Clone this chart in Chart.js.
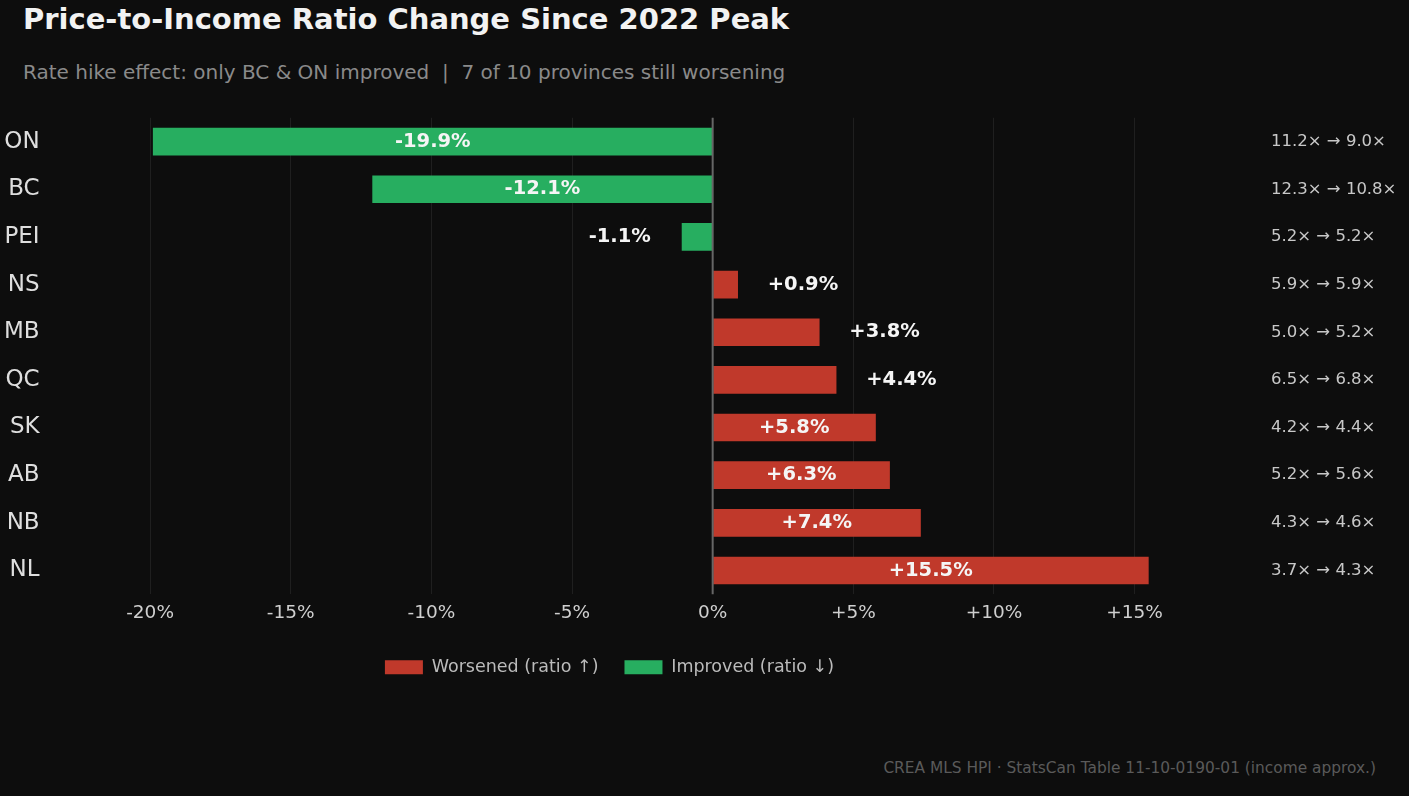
<!DOCTYPE html><html><head><meta charset="utf-8">
<script src="https://cdn.jsdelivr.net/npm/chart.js@4"></script>
<style>html,body{margin:0;background:#0d0d0d;}#w{position:relative;width:1409px;height:796px;}
#t{position:absolute;left:23px;top:2px;color:#f2f2f2;font:bold 29px "DejaVu Sans";}
#s{position:absolute;left:23px;top:60px;color:#8a8a8a;font:20px "DejaVu Sans";}
#f{position:absolute;right:33px;top:759px;color:#5a5a5a;font:15.4px "DejaVu Sans";}
canvas{position:absolute;left:0;top:100px;}</style></head><body><div id="w">
<div id="t">Price-to-Income Ratio Change Since 2022 Peak</div>
<div id="s">Rate hike effect: only BC &amp; ON improved &nbsp;|&nbsp; 7 of 10 provinces still worsening</div>
<div id="f">CREA MLS HPI · StatsCan Table 11-10-0190-01 (income approx.)</div>
<canvas id="c" width="1409" height="600"></canvas></div>
<script>
const provinces=["ON","BC","PEI","NS","MB","QC","SK","AB","NB","NL"];
const changes=[-19.9,-12.1,-1.1,0.9,3.8,4.4,5.8,6.3,7.4,15.5];
const ratioNotes=["11.2× → 9.0×","12.3× → 10.8×","5.2× → 5.2×","5.9× → 5.9×","5.0× → 5.2×","6.5× → 6.8×","4.2× → 4.4×","5.2× → 5.6×","4.3× → 4.6×","3.7× → 4.3×"];
const tickVals=[-20,-15,-10,-5,0,5,10,15];
const RED="#c0392b",GREEN="#27ae60";
const labelsPlugin={id:"lbl",afterDatasetsDraw(ch){const c=ch.ctx,x=ch.scales.x,y=ch.scales.y;
c.save();c.font="bold 19.5px 'DejaVu Sans'";c.textBaseline="middle";c.fillStyle="#f5f5f5";
changes.forEach((v,i)=>{const yy=y.getPixelForValue(i),x0=x.getPixelForValue(0),x1=x.getPixelForValue(v);
const t=(v>0?"+":"")+v.toFixed(1)+"%";c.textAlign="center";
if(Math.abs(v)>5)c.fillText(t,(x0+x1)/2,yy);else c.fillText(t,v>0?x1+65:x1-62,yy);});
c.font="16.5px 'DejaVu Sans'";c.fillStyle="#c8c8c8";c.textAlign="left";
ratioNotes.forEach((n,i)=>c.fillText(n,1271,y.getPixelForValue(i)));
c.strokeStyle="#666";c.lineWidth=2;const z=x.getPixelForValue(0);c.beginPath();c.moveTo(z,ch.chartArea.top);c.lineTo(z,ch.chartArea.bottom);c.stroke();
c.restore();}};
new Chart(document.getElementById("c"),{type:"bar",
data:{labels:provinces,datasets:[{data:changes,backgroundColor:changes.map(v=>v>0?RED:GREEN),barPercentage:0.58,categoryPercentage:1}]},
options:{indexAxis:"y",responsive:false,animation:false,layout:{padding:{left:0,right:190,top:2,bottom:14}},
scales:{x:{min:-23.5,max:18,afterBuildTicks(a){a.ticks=tickVals.map(v=>({value:v}));},
ticks:{color:"#cfcfcf",font:{size:18.5,family:"DejaVu Sans"},padding:8,callback:v=>(v>0?"+":"")+v+"%"},grid:{color:"#1f1f1f",drawTicks:false},border:{display:false}},
y:{ticks:{color:"#dedede",font:{size:23,family:"DejaVu Sans"},padding:4},grid:{display:false},border:{display:false}}},
plugins:{legend:{position:"bottom",labels:{color:"#bbb",font:{size:17.5,family:"DejaVu Sans"},boxWidth:38,boxHeight:14,padding:26,
generateLabels:()=>[{text:"Worsened (ratio ↑)",fillStyle:RED,strokeStyle:RED,lineWidth:0,fontColor:"#bbb"},{text:"Improved (ratio ↓)",fillStyle:GREEN,strokeStyle:GREEN,lineWidth:0,fontColor:"#bbb"}]}},tooltip:{enabled:false}}},
plugins:[labelsPlugin]});
</script></body></html>
